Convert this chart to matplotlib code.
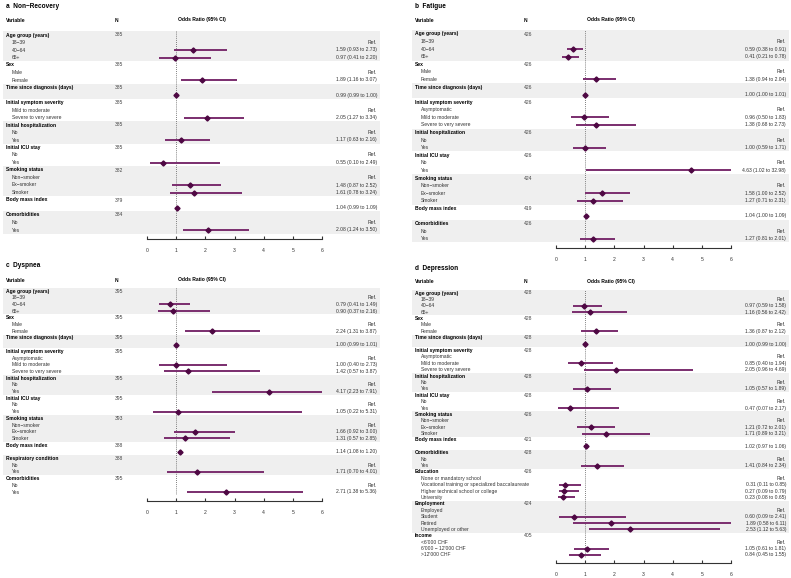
import numpy as np
import matplotlib
matplotlib.use('Agg')
import matplotlib.pyplot as plt
from matplotlib.patches import Rectangle
from matplotlib.transforms import blended_transform_factory

plt.rcParams['font.family'] = ['Liberation Sans', 'DejaVu Sans']

# ---- data ------------------------------------------------------------------
base_groups = ["Age group (years)", "Sex", "Time since diagnosis (days)",
               "Initial symptom severity", "Initial hospitalization",
               "Initial ICU stay", "Smoking status", "Body mass index"]
age_levels = ["18\u221239", "40\u221264", "65+"]
sex_levels = ["Male", "Female"]
yes_no = ["No", "Yes"]
smoke_levels = ["Non\u2212smoker", "Ex\u2212smoker", "Smoker"]
sev3 = ["Asymptomatic", "Mild to moderate", "Severe to very severe"]

# a  Non-Recovery
a_groups = base_groups + ["Comorbidities"]
a_n = [385, 385, 385, 385, 385, 385, 382, 379, 384]
a_levels = [age_levels, sex_levels, [""], ["Mild to moderate", "Severe to very severe"],
            yes_no, yes_no, smoke_levels, [""], yes_no]
a_or = [[None, 1.59, 0.97], [None, 1.89], [0.99], [None, 2.05], [None, 1.17],
        [None, 0.55], [None, 1.48, 1.61], [1.04], [None, 2.08]]
a_lo = [[None, 0.93, 0.41], [None, 1.16], [0.99], [None, 1.27], [None, 0.63],
        [None, 0.10], [None, 0.87, 0.78], [0.99], [None, 1.24]]
a_hi = [[None, 2.73, 2.20], [None, 3.07], [1.00], [None, 3.34], [None, 2.16],
        [None, 2.49], [None, 2.52, 3.24], [1.09], [None, 3.50]]

# b  Fatigue
b_groups = base_groups + ["Comorbidities"]
b_n = [426, 426, 426, 426, 426, 426, 424, 419, 426]
b_levels = [age_levels, sex_levels, [""], sev3, yes_no, yes_no, smoke_levels, [""], yes_no]
b_or = [[None, 0.59, 0.41], [None, 1.38], [1.00], [None, 0.96, 1.38], [None, 1.00],
        [None, 4.63], [None, 1.58, 1.27], [1.04], [None, 1.27]]
b_lo = [[None, 0.38, 0.21], [None, 0.94], [1.00], [None, 0.50, 0.68], [None, 0.59],
        [None, 1.02], [None, 1.00, 0.71], [1.00], [None, 0.81]]
b_hi = [[None, 0.91, 0.78], [None, 2.04], [1.01], [None, 1.83, 2.73], [None, 1.71],
        [None, 32.98], [None, 2.52, 2.31], [1.09], [None, 2.01]]

# c  Dyspnea
c_groups = base_groups + ["Respiratory condition", "Comorbidities"]
c_n = [395, 395, 395, 395, 395, 395, 393, 388, 388, 395]
c_levels = [age_levels, sex_levels, [""], sev3, yes_no, yes_no, smoke_levels, [""],
            yes_no, yes_no]
c_or = [[None, 0.79, 0.90], [None, 2.24], [1.00], [None, 1.00, 1.42], [None, 4.17],
        [None, 1.05], [None, 1.66, 1.31], [1.14], [None, 1.71], [None, 2.71]]
c_lo = [[None, 0.41, 0.37], [None, 1.31], [0.99], [None, 0.40, 0.57], [None, 2.23],
        [None, 0.22], [None, 0.92, 0.57], [1.08], [None, 0.70], [None, 1.38]]
c_hi = [[None, 1.49, 2.16], [None, 3.87], [1.01], [None, 2.73, 3.87], [None, 7.91],
        [None, 5.31], [None, 3.00, 2.85], [1.20], [None, 4.01], [None, 5.36]]

# d  Depression
d_groups = base_groups + ["Comorbidities", "Education", "Employment", "Income"]
d_n = [428, 428, 428, 428, 428, 428, 426, 421, 428, 426, 424, 405]
d_levels = [age_levels, sex_levels, [""], sev3, yes_no, yes_no, smoke_levels, [""], yes_no,
            ["None or mandatory school", "Vocational training or specialized baccalaureate",
             "Higher technical school or college", "University"],
            ["Employed", "Student", "Retired", "Unemployed or other"],
            ["<6'000 CHF", "6'000 \u2212 12'000 CHF", ">12'000 CHF"]]
d_or = [[None, 0.97, 1.16], [None, 1.36], [1.00], [None, 0.85, 2.05], [None, 1.05],
        [None, 0.47], [None, 1.21, 1.71], [1.02], [None, 1.41],
        [None, 0.31, 0.27, 0.23], [None, 0.60, 1.89, 2.53], [None, 1.05, 0.84]]
d_lo = [[None, 0.59, 0.56], [None, 0.87], [0.99], [None, 0.40, 0.96], [None, 0.57],
        [None, 0.07], [None, 0.72, 0.89], [0.97], [None, 0.84],
        [None, 0.11, 0.09, 0.08], [None, 0.09, 0.58, 1.12], [None, 0.61, 0.45]]
d_hi = [[None, 1.58, 2.42], [None, 2.12], [1.00], [None, 1.94, 4.69], [None, 1.89],
        [None, 2.17], [None, 2.01, 3.21], [1.06], [None, 2.34],
        [None, 0.85, 0.79, 0.65], [None, 2.41, 6.11, 5.63], [None, 1.81, 1.55]]

titles = ["a  Non\u2212Recovery", "b  Fatigue", "c  Dyspnea", "d  Depression"]
ticks = [0, 1, 2, 3, 4, 5, 6]

# ---- layout (pixels) --------------------------------------------------------
W, H = 791, 578
fig = plt.figure(figsize=(W / 100, H / 100), dpi=100)

line_col = '#7a2d6e'
pt_col = '#4e0843'
band_col = '#efefef'
fs = 3.6


def fx(px):
    return px / W


def fy(py):
    return 1 - py / H


def panel(title, groups, ns, levels, ors, los, his, xoff, y_title, y_first, row_h):
    # flatten rows
    rows = []
    for g, (name, n, levs, o, l, h) in enumerate(zip(groups, ns, levels, ors, los, his)):
        rows.append((name, str(n), None, None, None, True, g))
        for lv, oo, ll, hh in zip(levs, o, l, h):
            rows.append((lv, '', oo, ll, hh, False, g))
    nr = len(rows)
    x0, x6 = 147 + xoff, 322 + xoff
    top = y_first - row_h / 2
    ax = fig.add_axes([fx(x0), fy(top + nr * row_h), fx(x6 - x0), nr * row_h / H])
    ax.set_xlim(0, 6)
    ax.set_ylim(nr - 0.5, -0.5)
    ax.patch.set_visible(False)
    tr = blended_transform_factory(fig.transFigure, ax.transData)

    # title and header
    fig.text(fx(6 + xoff), fy(y_title + 1), title, fontsize=4.7, fontweight='bold',
             va='center', ha='left')
    yh = y_title + 15
    fig.text(fx(6 + xoff), fy(yh), "Variable", fontsize=fs, fontweight='bold', va='center')
    fig.text(fx(115 + xoff), fy(yh), "N", fontsize=fs, fontweight='bold', va='center')
    fig.text(fx(178 + xoff), fy(yh), "Odds Ratio (95% CI)", fontsize=fs,
             fontweight='bold', va='center')

    # shaded bands for alternate groups
    i = 0
    while i < nr:
        g = rows[i][6]
        j = i
        while j < nr and rows[j][6] == g:
            j += 1
        if g % 2 == 0:
            ax.add_patch(Rectangle((fx(3 + xoff), i - 0.5), fx(377), j - i,
                                   transform=tr, color=band_col, lw=0,
                                   clip_on=False, zorder=0))
        i = j

    ax.axvline(1, color='#555555', ls=(0, (1, 1.5)), lw=0.6, zorder=1)

    for k, (lab, n, o, l, h, is_group, g) in enumerate(rows):
        if is_group:
            ax.text(fx(6 + xoff), k, lab, transform=tr, fontsize=fs, fontweight='bold',
                    va='center', ha='left', clip_on=False)
            ax.text(fx(115 + xoff), k, n, transform=tr, fontsize=fs, color='#444444',
                    va='center', ha='left', clip_on=False)
            continue
        ax.text(fx(12 + xoff), k, lab, transform=tr, fontsize=fs, color='#333333',
                va='center', ha='left', clip_on=False)
        if o is None:
            txt = "Ref."
        else:
            txt = "%.2f (%.2f to %.2f)" % (o, l, h)
            ax.plot([l, h], [k, k], color=line_col, lw=1.4, solid_capstyle='butt', zorder=2)
            ax.plot([o], [k], marker='D', ms=2.6, color=pt_col, zorder=3)
        ax.text(fx(377 + xoff), k, txt, transform=tr, fontsize=fs, color='#333333',
                va='center', ha='right', clip_on=False)

    for s in ['top', 'right', 'left']:
        ax.spines[s].set_visible(False)
    ax.spines['bottom'].set_position(('outward', 3.8))
    ax.spines['bottom'].set_bounds(0, 6)
    ax.spines['bottom'].set_linewidth(0.8)
    ax.spines['bottom'].set_color('#333333')
    ax.set_yticks([])
    ax.set_xticks(ticks)
    ax.tick_params(axis='x', direction='in', length=2.5, width=0.8, color='#333333',
                   labelsize=fs, labelcolor='#333333', pad=6.5)
    return ax


panel(titles[0], a_groups, a_n, a_levels, a_or, a_lo, a_hi, 0, 5, 35, 7.5)
panel(titles[1], b_groups, b_n, b_levels, b_or, b_lo, b_hi, 409, 5, 34, 7.58)
panel(titles[2], c_groups, c_n, c_levels, c_or, c_lo, c_hi, 0, 265, 291, 6.7)
panel(titles[3], d_groups, d_n, d_levels, d_or, d_lo, d_hi, 409, 267, 293, 6.39)

fig.savefig('out.png', dpi=100)
